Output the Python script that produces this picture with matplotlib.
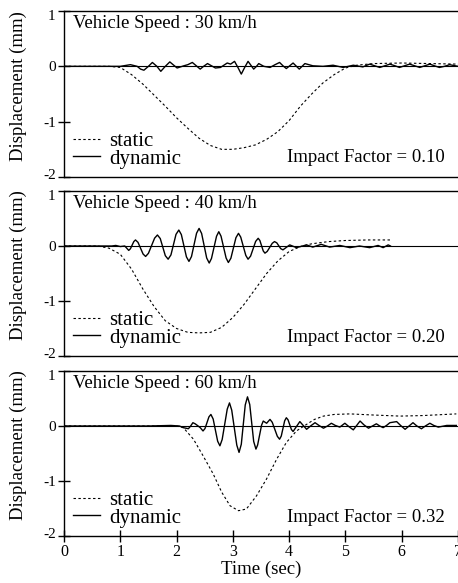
import matplotlib
matplotlib.use("Agg")
import matplotlib.pyplot as plt
from matplotlib.transforms import ScaledTranslation

plt.rcParams["font.family"] = ["Liberation Serif", "DejaVu Serif"]
plt.rcParams["axes.unicode_minus"] = False

# ---- data (time in sec, displacement in mm) ----
speeds = ["30", "40", "60"]
impact_factors = ["0.10", "0.20", "0.32"]

# 30 km/h
static_t_30 = [0.0, 0.8, 1.0, 1.2, 1.4, 1.6, 1.8, 2.0, 2.2, 2.4, 2.6, 2.8, 3.0,
               3.2, 3.4, 3.6, 3.8, 4.0, 4.2, 4.4, 4.6, 4.8, 5.0, 5.2, 5.5,
               6.0, 6.5, 7.0]
static_y_30 = [0.0, 0.0, -0.02, -0.15, -0.32, -0.52, -0.72, -0.93, -1.12,
               -1.3, -1.43, -1.5, -1.5, -1.47, -1.42, -1.32, -1.18, -0.98,
               -0.72, -0.5, -0.3, -0.15, -0.03, 0.02, 0.05, 0.06, 0.05, 0.04]
dyn_t_30 = [0.0, 1.0, 1.18, 1.3, 1.36, 1.42, 1.5, 1.57, 1.65, 1.72, 1.8, 1.88,
            1.95, 2.01, 2.13, 2.2, 2.28, 2.35, 2.42, 2.48, 2.55, 2.62, 2.69,
            2.78, 2.9, 2.96, 3.03, 3.09, 3.15, 3.21, 3.27, 3.32, 3.37, 3.42,
            3.46, 3.55, 3.66, 3.75, 3.83, 3.89, 3.95, 4.01, 4.07, 4.13, 4.18,
            4.23, 4.28, 4.42, 4.6, 4.78, 4.96, 5.14, 5.31, 5.43, 5.52, 5.61,
            5.7, 5.79, 5.88, 5.96, 6.05, 6.14, 6.23, 6.32, 6.41, 6.5, 6.58,
            6.67, 6.76, 6.85, 7.0]
dyn_y_30 = [0.0, 0.0, 0.03, 0.0, -0.05, -0.07, 0.0, 0.07, 0.0, -0.09, 0.0,
            0.08, 0.02, -0.03, 0.01, 0.03, 0.07, 0.01, -0.05, 0.0, 0.05, 0.01,
            -0.03, -0.02, 0.06, 0.04, 0.09, -0.02, -0.14, -0.02, 0.09, 0.02,
            -0.05, 0.0, 0.05, 0.0, -0.02, 0.03, 0.07, 0.01, -0.04, 0.01, 0.06,
            0.0, -0.05, 0.0, 0.05, 0.01, 0.0, 0.02, -0.02, 0.02, -0.01, 0.04,
            0.01, -0.02, 0.01, 0.04, 0.01, -0.02, 0.01, 0.04, 0.01, -0.02,
            0.01, 0.04, 0.01, -0.02, 0.0, 0.03, 0.0]

# 40 km/h
static_t_40 = [0.0, 0.6, 0.8, 1.0, 1.2, 1.4, 1.6, 1.8, 2.0, 2.2, 2.4, 2.6, 2.8,
               3.0, 3.2, 3.4, 3.6, 3.8, 4.0, 4.2, 4.4, 4.7, 5.0, 5.4, 5.8]
static_y_40 = [0.0, 0.0, -0.04, -0.15, -0.42, -0.78, -1.1, -1.36, -1.5, -1.57,
               -1.58, -1.57, -1.48, -1.3, -1.06, -0.78, -0.5, -0.27, -0.1,
               -0.01, 0.04, 0.08, 0.1, 0.11, 0.11]
dyn_t_40 = [0.0, 0.85, 0.92, 1.0, 1.08, 1.15, 1.18, 1.21, 1.24, 1.27,
            1.315, 1.36, 1.405, 1.45, 1.50, 1.555, 1.61, 1.66, 1.71, 1.755,
            1.80, 1.85, 1.90, 1.945, 1.99, 2.04, 2.085, 2.13, 2.175, 2.22,
            2.265, 2.31, 2.355, 2.40, 2.445, 2.49, 2.535, 2.58, 2.62, 2.665,
            2.71, 2.75, 2.79, 2.835, 2.88, 2.92, 2.965, 3.01, 3.055, 3.10,
            3.14, 3.185, 3.23, 3.27, 3.315, 3.36, 3.405, 3.45, 3.48, 3.51,
            3.54, 3.57, 3.61, 3.655, 3.70, 3.74, 3.78, 3.815, 3.85, 3.89,
            4.01, 4.13, 4.31, 4.42, 4.57, 4.72, 4.9, 5.08, 5.25, 5.43, 5.58,
            5.67, 5.76, 5.8]
dyn_y_40 = [0.0, 0.0, 0.01, -0.01, 0.0, -0.08, -0.05, 0.015, 0.08, 0.11,
            0.066, -0.04, -0.146, -0.19, -0.133, 0.005, 0.143, 0.2, 0.136,
            -0.02, -0.176, -0.24, -0.162, 0.025, 0.212, 0.29, 0.207, 0.005,
            -0.197, -0.28, -0.192, 0.02, 0.232, 0.32, 0.228, 0.005, -0.218,
            -0.31, -0.227, -0.025, 0.177, 0.26, 0.178, -0.02, -0.218, -0.3,
            -0.222, -0.035, 0.152, 0.23, 0.161, -0.005, -0.171, -0.24, -0.184,
            -0.05, 0.084, 0.14, 0.1, 0.005, -0.09, -0.13, -0.099, -0.025,
            0.049, 0.08, 0.058, 0.005, -0.048, -0.07, 0.02, -0.03, 0.02,
            -0.02, 0.03, -0.02, 0.01, -0.03, 0.0, -0.03, 0.01, -0.03, 0.02,
            0.0]

# 60 km/h
static_t_60 = [0.0, 2.0, 2.12, 2.3, 2.47, 2.65, 2.8, 2.95, 3.1, 3.24, 3.42,
               3.6, 3.78, 3.95, 4.13, 4.31, 4.45, 4.61, 4.8, 5.08, 5.49, 5.97,
               6.38, 6.97]
static_y_60 = [0.0, 0.0, -0.03, -0.24, -0.54, -0.87, -1.2, -1.45, -1.54,
               -1.51, -1.27, -0.96, -0.6, -0.3, -0.09, 0.03, 0.12, 0.18, 0.21,
               0.22, 0.2, 0.18, 0.19, 0.22]
dyn_t_60 = [0.0, 1.5, 1.9, 2.05, 2.12, 2.21, 2.25, 2.29, 2.33, 2.37, 2.42,
            2.47, 2.505, 2.54, 2.575, 2.61, 2.65, 2.69, 2.73, 2.77, 2.81,
            2.855, 2.90, 2.94, 2.98, 3.025, 3.07, 3.11, 3.15, 3.185, 3.22,
            3.26, 3.30, 3.335, 3.37, 3.41, 3.44, 3.475, 3.51, 3.54, 3.60,
            3.66, 3.70, 3.745, 3.79, 3.83, 3.86, 3.89, 3.92, 3.95, 3.98, 4.01,
            4.04, 4.07, 4.13, 4.19, 4.25, 4.31, 4.38, 4.46, 4.53, 4.61, 4.68,
            4.75, 4.82, 4.9, 4.99, 5.06, 5.14, 5.2, 5.26, 5.33, 5.41, 5.48,
            5.55, 5.61, 5.67, 5.73, 5.79, 5.91, 5.98, 6.06, 6.13, 6.2, 6.27,
            6.35, 6.42, 6.5, 6.57, 6.65, 6.8, 6.97]
dyn_y_60 = [0.0, 0.0, 0.01, 0.0, -0.03, -0.05, 0.0, 0.06, 0.04, 0.01, -0.03,
            -0.09, -0.046, 0.06, 0.166, 0.21, 0.127, -0.075, -0.277, -0.36,
            -0.246, 0.03, 0.306, 0.42, 0.288, -0.03, -0.348, -0.48, -0.332,
            0.025, 0.382, 0.53, 0.391, 0.055, -0.281, -0.42, -0.345, -0.165,
            0.015, 0.09, 0.05, 0.12, 0.067, -0.06, -0.187, -0.24, -0.183,
            -0.045, 0.093, 0.15, 0.113, 0.025, -0.063, -0.1, -0.01, 0.08,
            0.01, -0.06, 0.0, 0.06, 0.01, -0.04, 0.0, 0.05, 0.01, -0.02, 0.05,
            -0.01, -0.07, 0.01, 0.09, 0.02, -0.04, 0.0, 0.04, 0.0, -0.03,
            0.01, 0.06, 0.08, 0.01, -0.06, 0.0, 0.06, 0.0, -0.05, 0.0, 0.05,
            0.01, -0.02, 0.01, 0.01]

statics = [(static_t_30, static_y_30), (static_t_40, static_y_40),
           (static_t_60, static_y_60)]
dynamics = [(dyn_t_30, dyn_y_30), (dyn_t_40, dyn_y_40), (dyn_t_60, dyn_y_60)]

# ---- figure ----
W, H = 458, 583
fig = plt.figure(figsize=(W / 100, H / 100), dpi=100)

# panel boxes in pixels: (top, bottom)
boxes = [(11, 177), (191, 356), (371, 536)]
left_px, right_px = 64, 458

for i, (top, bot) in enumerate(boxes):
    ax = fig.add_axes([left_px / W, 1 - bot / H, (right_px - left_px) / W,
                       (bot - top) / H])
    ax.set_xlim(0, 7)
    ax.set_ylim(-2, 1)

    ax.axhline(0, color="black", lw=0.8, zorder=1)
    st_t, st_y = statics[i]
    dy_t, dy_y = dynamics[i]
    ax.plot(st_t, st_y, color="black", lw=0.8, ls=(0, (2.2, 2.2)),
            label="static", zorder=2)
    ax.plot(dy_t, dy_y, color="black", lw=1.0, label="dynamic", zorder=3)

    ax.spines["right"].set_visible(False)
    for side in ["left", "bottom", "top"]:
        ax.spines[side].set_linewidth(1.0)

    ax.set_yticks([-2, -1, 0, 1])
    ax.set_yticklabels(["-2", "-1", "0", "1"])
    ax.tick_params(axis="y", direction="inout", length=8, width=1.0,
                   labelsize=11, pad=2)
    # nudge the edge labels a little so neighbouring panels do not collide
    ylabels = ax.get_yticklabels()
    ylabels[0].set_transform(ylabels[0].get_transform()
                             + ScaledTranslation(0, 2 / 72, fig.dpi_scale_trans))
    ylabels[-1].set_transform(ylabels[-1].get_transform()
                              + ScaledTranslation(0, -3 / 72, fig.dpi_scale_trans))
    if i < 2:
        ax.set_xticks([])
    else:
        ax.set_xticks(range(0, 8))
        ax.tick_params(axis="x", direction="inout", length=8, width=1.0,
                       labelsize=11.5, pad=2)
        ax.set_xlabel("Time (sec)", fontsize=13.5, labelpad=0)

    ax.set_ylabel("Displacement (mm)", fontsize=13.5)
    ax.yaxis.set_label_coords(-0.094, 0.55)

    ax.text(0.023, 0.925, f"Vehicle Speed : {speeds[i]} km/h",
            transform=ax.transAxes, fontsize=13.5, ha="left", va="center")
    ax.text(0.967, 0.115, f"Impact Factor = {impact_factors[i]}",
            transform=ax.transAxes, fontsize=13.5, ha="right", va="center")

    ax.legend(loc="lower left", bbox_to_anchor=(0.023, 0.05), frameon=False,
              fontsize=15, handlelength=1.3, handletextpad=0.45,
              labelspacing=-0.1, borderpad=0.0, borderaxespad=0.0)

fig.savefig("out.png", dpi=100)
